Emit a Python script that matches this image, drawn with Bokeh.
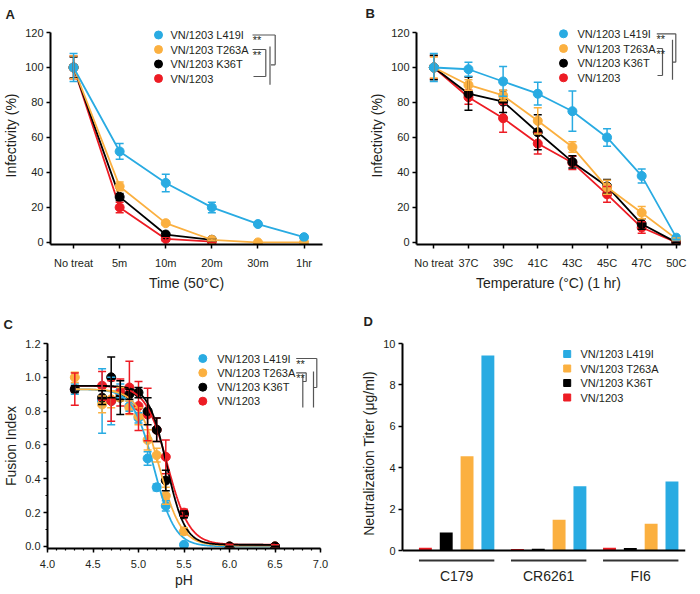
import numpy as np
from bokeh.plotting import figure
from bokeh.models import (ColumnDataSource, Whisker, TeeHead, FixedTicker,
                          Span, Range1d, NumeralTickFormatter)
from bokeh.layouts import column, row
from bokeh.embed import file_html
from bokeh.resources import INLINE
from bokeh.core.properties import value

FONT = "Liberation Sans"

# ---------------- data ----------------
series_names = ["VN/1203 L419I", "VN/1203 T263A", "VN/1203 K36T", "VN/1203"]
series_colors = ["#29ABE2", "#FBB040", "#000000", "#ED1C24"]

# Panel A: infectivity after 50°C
a_categories = ["No treat", "5m", "10m", "20m", "30m", "1hr"]
a_L419I = [100, 52, 34, 20, 10.5, 3]
a_L419I_err = [8, 4.5, 5, 3, 1, 1]
a_T263A = [100, 32, 11, 1.5, 0, 0]
a_T263A_err = [6.5, 2.5, 1, 0.5, 0, 0]
a_K36T = [100, 26, 4.5, 1.5]
a_K36T_err = [6, 2, 1, 0.5]
a_VN1203 = [100, 20, 2, 0.5]
a_VN1203_err = [6.5, 3, 1, 0.5]

# Panel B: infectivity after 1 hr at temperature
b_categories = ["No treat", "37C", "39C", "41C", "43C", "45C", "47C", "50C"]
b_L419I = [100, 99, 92, 85, 75, 60, 38, 2.7]
b_L419I_err = [8, 4, 8.5, 6.5, 11.5, 5, 4, 1]
b_T263A = [100, 90, 84, 69.5, 54.5, 31.5, 17, 2]
b_T263A_err = [6, 3, 3, 7.5, 3, 4, 3.5, 0.5]
b_K36T = [100, 85, 80.5, 63, 46, 32, 10.5, 0]
b_K36T_err = [7, 9.5, 6.3, 10, 3.5, 4, 3, 0]
b_VN1203 = [100, 83, 71, 56.5, 45.5, 27.5, 8.5, 0]
b_VN1203_err = [6.5, 4, 8, 6, 3.8, 4.5, 3.3, 0]

# Panel C: fusion index vs pH
c_pH = [4.3, 4.6, 4.7, 4.8, 4.9, 5.0, 5.1, 5.2, 5.3, 5.5, 6.0, 6.5]
c_L419I = [0.93, 0.86, 0.86, 0.92, 0.83, 0.76, 0.52, 0.35, 0.24, 0.01, 0.0, 0.0]
c_L419I_err = [0.03, 0.19, 0.14, 0.04, 0.03, 0.03, 0.04, 0.02, 0.03, 0.01, 0.0, 0.0]
c_T263A = [1.0, 0.84, 0.87, 0.90, 0.82, 0.77, 0.63, 0.54, 0.30, 0.09, 0.0, 0.0]
c_T263A_err = [0.03, 0.05, 0.05, 0.04, 0.04, 0.05, 0.06, 0.04, 0.05, 0.02, 0.0, 0.0]
c_K36T = [0.93, 0.88, 1.0, 0.88, 0.90, 0.91, 0.80, 0.69, 0.39, 0.19, 0.0, 0.0]
c_K36T_err = [0.02, 0.04, 0.12, 0.10, 0.03, 0.03, 0.08, 0.07, 0.06, 0.02, 0.0, 0.0]
c_VN1203 = [0.93, 0.95, 0.86, 0.91, 0.94, 0.83, 0.78, 0.69, 0.53, 0.20, 0.0, 0.0]
c_VN1203_err = [0.095, 0.085, 0.12, 0.08, 0.155, 0.145, 0.155, 0.07, 0.10, 0.02, 0.01, 0.01]
# sigmoid fit parameters (top, bottom, pH50, slope)
c_fit_top = [0.93, 0.93, 0.95, 0.95]
c_fit_bottom = [0.0, 0.005, 0.01, 0.01]
c_fit_pH50 = [5.17, 5.23, 5.31, 5.32]
c_fit_slope = [0.115, 0.12, 0.10, 0.12]

# Panel D: neutralization titer
d_groups = ["C179", "CR6261", "FI6"]
d_L419I = [9.42, 3.1, 3.33]
d_T263A = [4.55, 1.48, 1.29]
d_K36T = [0.87, 0.08, 0.12]
d_VN1203 = [0.13, 0.07, 0.13]


# ---------------- helpers ----------------
class Frame:
    """pixel offsets (from frame left / from top of the y axis) -> data coords"""
    def __init__(self, xr, yr, fw, fh, pad=0):
        self.xr, self.yr, self.fw, self.fh, self.pad = xr, yr, fw, fh, pad

    def x(self, px):
        return self.xr[0] + px / self.fw * (self.xr[1] - self.xr[0])

    def y(self, py):
        return self.yr[1] - (py + self.pad) / self.fh * (self.yr[1] - self.yr[0])


def make_fig(fw, fh, borders, xr, yr, letter, letter_offset, letter_standoff, pad=0):
    l, r, t, b = borders
    p = figure(frame_width=fw, frame_height=fh,
               min_border_left=l, min_border_right=r,
               min_border_top=t, min_border_bottom=b,
               x_range=Range1d(*xr), y_range=Range1d(*yr),
               output_backend="svg", toolbar_location=None,
               background_fill_color="white", border_fill_color="white",
               outline_line_color=None, title=letter)
    p.title.text_font = FONT
    p.title.text_font_size = "13px"
    p.title.text_font_style = "bold"
    p.title.text_color = "#231F20"
    p.title.align = "left"
    p.title.offset = letter_offset
    p.title.standoff = letter_standoff
    p.title.vertical_align = "top"
    p.xgrid.visible = False
    p.ygrid.visible = False
    for ax in (p.xaxis[0], p.yaxis[0]):
        ax.axis_line_width = 2
        ax.axis_line_color = "black"
        ax.major_tick_line_width = 1.5
        ax.major_tick_line_color = "black"
        ax.major_tick_in = 0
        ax.major_tick_out = 4
        ax.minor_tick_in = 0
        ax.minor_tick_out = 2
        ax.minor_tick_line_width = 1.2
        ax.minor_tick_line_color = None
        ax.major_label_text_font = FONT
        ax.major_label_text_font_size = "11px"
        ax.major_label_text_color = "#231F20"
        ax.axis_label_text_font = FONT
        ax.axis_label_text_font_size = "14px"
        ax.axis_label_text_font_style = "normal"
        ax.axis_label_text_color = "#231F20"
        ax.axis_label_standoff = 3
        ax.major_label_standoff = 3
    return p, Frame(xr, yr, fw, fh, pad)


def add_series(p, x, y, err, color, connect=True, size=9):
    src = ColumnDataSource(dict(x=x, y=y,
                                lower=[v - e for v, e in zip(y, err)],
                                upper=[v + e for v, e in zip(y, err)]))
    w = Whisker(source=src, base="x", upper="upper", lower="lower",
                line_color=color, line_width=1.5, level="glyph",
                upper_head=TeeHead(size=8, line_color=color, line_width=1.5),
                lower_head=TeeHead(size=8, line_color=color, line_width=1.5))
    p.add_layout(w)
    if connect:
        p.line("x", "y", source=src, line_color=color, line_width=1.8)
    p.scatter("x", "y", source=src, size=size, fill_color=color, line_color=color)


def add_legend(p, fr, gx, rows, tx, marker, msize):
    p.scatter([fr.x(gx)] * 4, [fr.y(r) for r in rows], marker=marker, size=msize,
              fill_color=series_colors, line_color=series_colors)
    p.text([fr.x(tx)] * 4, [fr.y(r) for r in rows], text=series_names,
           text_font=value(FONT), text_font_size="11px", text_color="#231F20",
           text_baseline="middle", text_align="left")


def add_brackets(p, fr, segs, stars):
    p.segment([fr.x(s[0]) for s in segs], [fr.y(s[1]) for s in segs],
              [fr.x(s[2]) for s in segs], [fr.y(s[3]) for s in segs],
              line_color="#555555", line_width=1.2)
    p.text([fr.x(s[0]) for s in stars], [fr.y(s[1]) for s in stars],
           text=["**"] * len(stars), text_font=value(FONT), text_font_size="11px",
           text_color="#231F20", text_align="center", text_baseline="alphabetic")


# infectivity panels: frame extends 6 px above the 120 tick
PAD = 6
INF_FH = 218
inf_bottom = -1.2
inf_top = 120 + PAD * (120 - inf_bottom) / (INF_FH - PAD)

# ---------------- Panel A ----------------
pA, fA = make_fig(272, INF_FH, (45, 25, 25, 55), (-0.5, 5.4), (inf_bottom, inf_top),
                  "A", -45, 6, PAD)
pA.xaxis[0].ticker = FixedTicker(ticks=list(range(len(a_categories))))
pA.xaxis[0].major_label_overrides = {i: c for i, c in enumerate(a_categories)}
pA.xaxis[0].major_label_standoff = 8
pA.yaxis[0].ticker = FixedTicker(ticks=[0, 20, 40, 60, 80, 100, 120])
pA.yaxis[0].bounds = (inf_bottom, 120)
pA.xaxis[0].axis_label = "Time (50°C)"
pA.yaxis[0].axis_label = "Infectivity (%)"
a_vals = [a_L419I, a_T263A, a_K36T, a_VN1203]
a_errs = [a_L419I_err, a_T263A_err, a_K36T_err, a_VN1203_err]
for k in [3, 2, 1, 0]:
    add_series(pA, list(range(len(a_vals[k]))), a_vals[k], a_errs[k], series_colors[k])
add_legend(pA, fA, 108, [2.5, 17, 31.5, 46], 120, "circle", 8)
add_brackets(pA, fA,
             [(202, 2.5, 224.7, 2.5), (224.7, 2.5, 224.7, 32.3), (224.7, 32.3, 220.5, 32.3),
              (219.5, 14, 219.5, 52.3),
              (202, 17, 215.3, 17), (215.3, 17, 215.3, 44), (215.3, 44, 203, 44)],
             [(206.5, 7.5), (206.5, 22)])

# ---------------- Panel B ----------------
pB, fB = make_fig(264, INF_FH, (69, 9, 26, 54), (-0.5, 7.12), (inf_bottom, inf_top),
                  "B", -51, 8, PAD)
pB.xaxis[0].ticker = FixedTicker(ticks=list(range(len(b_categories))))
pB.xaxis[0].major_label_overrides = {i: c for i, c in enumerate(b_categories)}
pB.xaxis[0].major_label_standoff = 8
pB.yaxis[0].ticker = FixedTicker(ticks=[0, 20, 40, 60, 80, 100, 120])
pB.yaxis[0].bounds = (inf_bottom, 120)
pB.xaxis[0].axis_label = "Temperature (°C) (1 hr)"
pB.yaxis[0].axis_label = "Infectivity (%)"
b_vals = [b_L419I, b_T263A, b_K36T, b_VN1203]
b_errs = [b_L419I_err, b_T263A_err, b_K36T_err, b_VN1203_err]
for k in [3, 2, 1, 0]:
    add_series(pB, list(range(len(b_vals[k]))), b_vals[k], b_errs[k], series_colors[k])
add_legend(pB, fB, 147, [1.3, 16, 30.7, 45.3], 161, "circle", 8)
add_brackets(pB, fB,
             [(240.3, 1.3, 259.3, 1.3), (259.3, 1.3, 259.3, 29.7), (259.3, 29.7, 256, 29.7),
              (256, 7.3, 256, 47.3),
              (240.3, 16, 246, 16), (246, 16, 246, 43), (246, 43, 241, 43)],
             [(244.3, 6.3), (244.3, 21)])

# ---------------- Panel C ----------------
pC, fC = make_fig(273, 205, (44, 25, 41, 45), (4.0, 7.0), (-0.012, 1.2),
                  "C", -44, 20)
pC.xaxis[0].ticker = FixedTicker(ticks=[4.0, 4.5, 5.0, 5.5, 6.0, 6.5, 7.0],
                                 minor_ticks=[round(4.0 + 0.1 * i, 1) for i in range(31)])
pC.yaxis[0].ticker = FixedTicker(ticks=[0.0, 0.2, 0.4, 0.6, 0.8, 1.0, 1.2],
                                 minor_ticks=[round(0.1 * i, 1) for i in range(13)])
pC.xaxis[0].minor_tick_line_color = "black"
pC.yaxis[0].minor_tick_line_color = "black"
pC.xaxis[0].formatter = NumeralTickFormatter(format="0.0")
pC.yaxis[0].formatter = NumeralTickFormatter(format="0.0")
pC.xaxis[0].major_label_standoff = 7
pC.xaxis[0].axis_label_standoff = 1
pC.xaxis[0].axis_label = "pH"
pC.yaxis[0].axis_label = "Fusion Index"
c_vals = [c_L419I, c_T263A, c_K36T, c_VN1203]
c_errs = [c_L419I_err, c_T263A_err, c_K36T_err, c_VN1203_err]
for k in [0, 1, 3, 2]:
    add_series(pC, c_pH, c_vals[k], c_errs[k], series_colors[k], connect=False)
c_grid = np.linspace(min(c_pH), max(c_pH), 300)
for k in [0, 1, 3, 2]:
    fit = c_fit_bottom[k] + (c_fit_top[k] - c_fit_bottom[k]) / (
        1 + np.exp((c_grid - c_fit_pH50[k]) / c_fit_slope[k]))
    pC.line(c_grid, fit, line_color=series_colors[k], line_width=1.8)
add_legend(pC, fC, 155.3, [15, 29.3, 43.7, 57.7], 169.7, "circle", 8)
add_brackets(pC, fC,
             [(248.7, 15, 269.3, 15), (269.3, 15, 269.3, 44), (269.3, 44, 266, 44),
              (266, 28, 266, 64),
              (248.7, 29.3, 258.7, 29.3), (258.7, 29.3, 258.7, 38), (258.7, 38, 255.3, 38),
              (255.3, 32, 255.3, 64)],
             [(253, 20), (253, 34.3)])

# ---------------- Panel D ----------------
d_gap = 0.42
d_width = 0.62
d_order = [d_VN1203, d_K36T, d_T263A, d_L419I]
d_colors = [series_colors[3], series_colors[2], series_colors[1], series_colors[0]]
n_series = len(d_order)
group_step = n_series + d_gap
d_xr = (-1.1, (len(d_groups) - 1) * group_step + (n_series - 1) + 0.65)
D_FH = 220
d_px_per_unit = 207 / 10.0
pD, fD = make_fig(283, D_FH, (57, 2, 45, 21), d_xr,
                  (-(D_FH - 207) / d_px_per_unit, 10), "D", -39, 26)
pD.yaxis[0].bounds = (0, 10)
pD.yaxis[0].ticker = FixedTicker(ticks=[0, 2, 4, 6, 8, 10])
pD.yaxis[0].axis_label = "Neutralization Titer (μg/ml)"
centers = [g * group_step + (n_series - 1) / 2 for g in range(len(d_groups))]
pD.xaxis[0].ticker = FixedTicker(ticks=centers)
pD.xaxis[0].major_label_overrides = {c: gname for c, gname in zip(centers, d_groups)}
pD.xaxis[0].axis_line_color = None
pD.xaxis[0].major_tick_line_color = None
pD.xaxis[0].major_tick_out = 0
pD.xaxis[0].major_label_text_font_size = "14px"
pD.xaxis[0].major_label_standoff = 4
for i, (vals, col) in enumerate(zip(d_order, d_colors)):
    xs = [g * group_step + i for g in range(len(d_groups))]
    pD.vbar(x=xs, top=vals, width=d_width, bottom=0, fill_color=col, line_color=None)
pD.add_layout(Span(location=0, dimension="width", line_color="black", line_width=2))
line_y = fD.y(217)
pD.segment([g * group_step - d_width / 2 for g in range(len(d_groups))], [line_y] * 3,
           [g * group_step + n_series - 1 + d_width / 2 for g in range(len(d_groups))], [line_y] * 3,
           line_color="#333333", line_width=2)
add_legend(pD, fD, 164.7, [10.5, 25, 39.5, 54], 178, "square", 7)

layout = column(row(pA, pB), row(pC, pD))
open("out.html", "w").write(file_html(layout, INLINE))
